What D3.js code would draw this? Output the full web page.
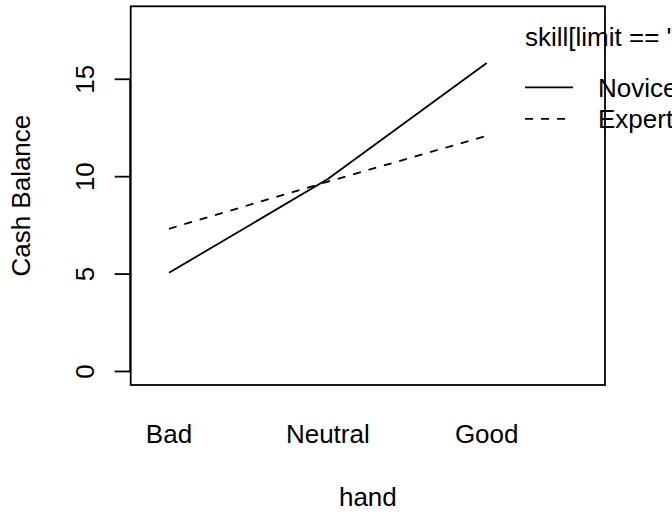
<!DOCTYPE html>
<html>
<head>
<meta charset="utf-8">
<script src="https://cdn.jsdelivr.net/npm/d3@7"></script>
<style>
  body { margin: 0; background: #fff; }
  svg { display: block; }
  text { font-family: "Liberation Sans", Arial, sans-serif; fill: #000; }
</style>
</head>
<body>
<div id="chart"></div>
<script>
// данные
let hands = ['Bad', 'Neutral', 'Good'];
let novice = [5.04, 9.85, 15.81];
let expert = [7.30, 9.72, 12.07];
let yTicks = [0, 5, 10, 15];
let seriesNames = ['Novice', 'Expert'];
let legendTitle = "skill[limit == 'Yes']";

let width = 672, height = 514;
let box = {left: 130.7, right: 605, top: 6.3, bottom: 385}; // область графика
let fs = 26; // размер шрифта

let svg = d3.select('#chart').append('svg')
  .attr('width', width)
  .attr('height', height);

// ylim = c(0, 18) + 4% как в R
let y = d3.scaleLinear()
  .domain([0 - 18 * 0.04, 18 + 18 * 0.04])
  .range([box.bottom, box.top]);

// уровни фактора на позициях 1..3
let x = d3.scaleLinear()
  .domain([1, 3])
  .range([169, 486.7]);

let line = d3.line()
  .x((d, i) => x(i + 1))
  .y(d => y(d));

svg.append('path')
  .datum(novice)
  .attr('d', line)
  .attr('fill', 'none')
  .attr('stroke', '#000')
  .attr('stroke-width', 1.8);

svg.append('path')
  .datum(expert)
  .attr('d', line)
  .attr('fill', 'none')
  .attr('stroke', '#000')
  .attr('stroke-width', 1.8)
  .attr('stroke-dasharray', '8,8');

// ось Y
let yAxis = d3.axisLeft(y)
  .tickValues(yTicks)
  .tickSize(16)
  .tickFormat(d3.format('d'));

let gy = svg.append('g')
  .attr('transform', 'translate(' + box.left + ',0)')
  .call(yAxis);
gy.select('.domain').remove();
gy.selectAll('.tick line').attr('stroke-width', 1.8);
gy.selectAll('.tick text')
  .attr('font-size', fs)
  .attr('font-family', '"Liberation Sans", Arial, sans-serif')
  .attr('text-anchor', 'middle')
  .attr('dy', null)
  .attr('x', null)
  .attr('transform', 'translate(-37,0) rotate(-90)');

// линия оси от 0 до 15
svg.append('line')
  .attr('x1', box.left - 0.5).attr('x2', box.left - 0.5)
  .attr('y1', y(yTicks[0])).attr('y2', y(yTicks[yTicks.length - 1]))
  .attr('stroke', '#000').attr('stroke-width', 1.8);

// подписи по X
svg.selectAll('.xlab')
  .data(hands)
  .enter().append('text')
  .attr('class', 'xlab')
  .attr('x', (d, i) => x(i + 1))
  .attr('y', 443)
  .attr('text-anchor', 'middle')
  .attr('font-size', fs)
  .text(d => d);

svg.append('text')
  .attr('x', (box.left + box.right) / 2)
  .attr('y', 506)
  .attr('text-anchor', 'middle')
  .attr('font-size', fs)
  .text('hand');

svg.append('text')
  .attr('transform', 'translate(30,' + (box.top + box.bottom) / 2 + ') rotate(-90)')
  .attr('text-anchor', 'middle')
  .attr('font-size', fs)
  .text('Cash Balance');

// легенда
let leg = svg.append('g');
leg.append('text')
  .attr('x', 525)
  .attr('y', 46)
  .attr('font-size', fs)
  .text(legendTitle);

seriesNames.forEach((name, i) => {
  let ly = 87.3 + i * 31.6;
  leg.append('line')
    .attr('x1', 525).attr('x2', 573)
    .attr('y1', ly).attr('y2', ly)
    .attr('stroke', '#000')
    .attr('stroke-width', 1.8)
    .attr('stroke-dasharray', i == 1 ? '8,8' : null);
  leg.append('text')
    .attr('x', 598)
    .attr('y', ly + 9.5)
    .attr('font-size', fs)
    .text(name);
});

// рамка поверх легенды
svg.append('rect')
  .attr('x', box.left)
  .attr('y', box.top)
  .attr('width', box.right - box.left)
  .attr('height', box.bottom - box.top)
  .attr('fill', 'none')
  .attr('stroke', '#000')
  .attr('stroke-width', 1.8);
</script>
</body>
</html>
